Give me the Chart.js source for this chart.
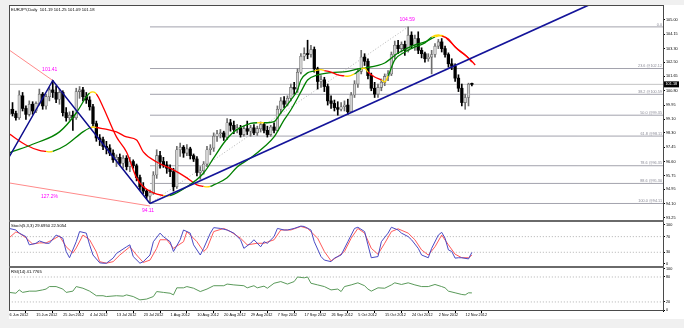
<!DOCTYPE html>
<html>
<head>
<meta charset="utf-8">
<script src="https://cdn.jsdelivr.net/npm/chart.js@4.4.1/dist/chart.umd.min.js"></script>
<style>
  html, body { margin: 0; padding: 0; background: #f0f0f0; }
  canvas { display: block; }
</style>
</head>
<body>
<canvas id="chart" width="684" height="328"></canvas>
<script>
// EURJPY daily bars, bar 0 = 5 Jun 2012 ... bar 138 = 13 Nov 2012 (Sunday bars included)
const opens  = [99.40,99.70,99.45,99.20,100.50,99.75,99.40,100.00,99.60,100.05,100.60,99.90,100.45,100.85,100.70,100.30,100.70,99.50,99.20,99.35,
  99.20,100.75,100.85,100.45,100.25,99.85,98.85,98.00,97.90,97.50,97.40,97.10,96.70,96.85,96.50,96.80,96.30,96.60,96.35,95.65,
  95.10,94.85,94.55,94.75,95.80,96.95,96.60,96.40,96.20,96.00,95.10,97.30,97.45,97.10,97.35,96.95,96.75,95.95,96.05,96.45,
  97.30,97.40,98.10,98.25,98.30,98.05,98.90,98.75,98.50,98.60,98.20,98.55,98.40,98.60,98.30,98.55,98.80,98.45,98.20,98.65,
  98.45,99.70,100.20,100.00,100.35,101.00,100.90,101.90,102.85,103.00,102.95,103.25,102.10,101.35,101.45,101.05,100.20,100.05,99.80,99.70,
  99.85,99.95,99.55,100.55,101.20,101.95,102.80,102.55,101.70,100.95,100.60,101.00,101.30,101.65,101.80,102.95,103.50,103.30,103.55,103.20,
  104.10,103.50,103.90,103.20,103.00,102.70,102.80,102.95,103.45,103.70,103.30,102.95,102.40,102.25,101.55,100.95,100.10,100.40,101.19];
const highs  = [99.90,100.10,99.60,100.80,100.70,99.90,100.20,100.15,100.15,100.90,100.70,100.60,101.00,101.41,101.10,100.90,100.80,99.80,99.55,99.60,
  100.95,101.05,101.00,100.70,100.45,100.00,99.00,98.20,98.05,97.80,97.60,97.30,97.00,97.05,96.95,96.95,96.85,96.70,96.45,95.80,
  95.35,94.95,94.90,96.00,97.30,97.20,96.85,96.60,96.40,96.20,97.50,97.70,97.55,97.60,97.45,97.05,96.90,96.30,96.60,97.50,
  97.60,98.30,98.45,98.50,98.40,99.15,99.10,99.00,98.80,98.75,98.70,99.00,98.75,98.80,98.70,98.95,98.90,98.70,98.75,98.90,
  99.90,100.40,100.45,100.50,101.20,101.30,102.10,103.00,103.35,103.80,103.50,103.40,102.20,101.70,101.60,101.20,100.50,100.25,100.15,100.10,
  100.20,100.30,100.70,101.40,102.10,103.20,103.00,102.70,101.85,101.30,101.20,101.50,101.80,102.00,103.10,103.75,103.80,103.70,103.75,104.59,
  104.30,104.10,104.30,103.35,103.10,103.00,103.20,103.60,103.85,103.90,103.45,103.05,102.70,102.40,101.75,101.20,100.60,101.25,101.25];
const lows   = [99.15,99.30,99.05,99.10,99.60,99.10,99.30,99.40,99.50,99.95,99.70,99.70,100.20,100.40,100.10,100.00,99.30,99.00,99.05,98.45,
  99.10,100.35,100.20,100.05,99.65,98.70,97.80,97.55,97.30,97.05,96.95,96.55,96.30,96.35,96.20,96.10,96.00,96.20,95.45,94.90,
  94.70,94.40,94.11,94.65,95.60,96.20,96.25,95.90,95.70,94.85,95.00,96.90,96.85,96.95,96.75,96.60,95.75,95.55,95.85,96.30,
  97.00,97.20,97.80,98.00,97.85,97.90,98.40,98.25,98.30,98.05,98.10,98.20,98.10,98.20,98.15,98.35,98.30,98.05,98.10,98.30,
  98.40,99.50,99.80,99.90,100.20,100.60,100.70,101.80,102.60,102.70,102.80,101.90,100.90,101.00,100.75,99.95,99.75,99.60,99.35,99.60,
  99.60,99.40,99.50,100.40,101.00,101.80,102.30,101.50,100.80,100.40,100.40,100.80,101.10,101.40,101.70,102.70,103.00,103.10,102.90,103.10,
  103.30,103.20,103.00,102.75,102.50,102.55,101.80,102.80,103.30,103.10,102.80,102.20,102.05,101.35,100.75,99.90,99.70,99.90,101.09];
const closes = [99.70,99.45,99.20,100.55,99.75,99.40,100.00,99.60,100.05,100.60,99.90,100.45,100.85,100.70,100.30,100.70,99.50,99.20,99.35,99.20,
  100.75,100.85,100.45,100.25,99.85,98.85,98.00,97.90,97.50,97.40,97.10,96.70,96.85,96.50,96.80,96.30,96.60,96.35,95.65,95.10,
  94.85,94.55,94.75,95.80,96.95,96.60,96.40,96.20,96.00,95.10,97.30,97.45,97.10,97.35,96.95,96.75,95.95,96.05,96.45,97.30,
  97.40,98.10,98.25,98.30,98.05,98.90,98.75,98.50,98.60,98.20,98.55,98.40,98.60,98.30,98.55,98.80,98.45,98.20,98.65,98.45,
  99.70,100.20,100.00,100.35,101.00,100.90,101.90,102.85,103.00,102.95,103.25,102.10,101.35,101.45,101.05,100.20,100.05,99.80,99.70,99.85,
  99.95,99.55,100.55,101.20,101.95,102.80,102.55,101.70,100.95,100.60,101.00,101.30,101.65,101.80,102.95,103.50,103.30,103.55,103.20,104.10,
  103.50,103.90,103.20,103.00,102.70,102.80,102.95,103.45,103.70,103.30,102.95,102.40,102.25,101.55,100.95,100.10,100.40,101.19,101.18];

// colour-changing moving averages (bar, price)
const fastMaBars = [0,8,15,20,23,24,25,26,28,32,35,38,40,43,46,47,48,53,58,61,64,67,72,74,76,79,81,84,86,87,
  89,91,93,94,96,98,100,101,103,105,106,107,109,111,112,113,115,118,121,124,126,128,129,131,133,136,138];
const fastMa = [97.11,97.70,98.36,99.48,100.43,100.67,100.73,100.61,99.84,98.06,97.17,95.63,95.10,94.74,94.58,94.55,94.57,95.10,95.92,96.81,
  97.70,98.36,98.86,98.90,98.90,98.97,99.48,100.25,100.85,101.44,101.86,101.97,102.06,102.00,101.91,101.74,101.68,101.66,101.80,102.09,
  102.15,101.91,101.62,101.44,101.32,101.68,102.63,103.10,103.40,103.64,103.99,104.11,104.05,103.87,103.40,102.92,102.51];
const slowMaBars = [0,5,9,11,12,13,17,22,24,25,26,32,35,38,40,44,49,53,56,58,59,60,61,65,68,72,76,79,82,84,
  87,89,92,96,101,104,106,112,116,121,124,127,129,130,131,134,137,139];
const slowMa = [98.24,97.58,97.26,97.20,97.17,97.20,97.58,98.36,98.59,98.65,98.62,98.36,98.06,97.88,97.17,96.57,96.10,95.63,95.21,95.12,
  95.09,95.12,95.21,95.63,96.28,96.81,97.46,98.06,99.07,99.66,100.73,101.44,101.74,101.88,101.95,102.10,102.15,102.45,103.04,103.52,
  103.70,103.99,104.08,103.99,103.81,103.22,102.75,102.33];

// Stochastic (5,3,3)
const stochKBars = [0,2,3,5,6,8,9,11,12,14,16,17,18,20,21,23,24,25,27,28,29,31,32,35,36,37,39,40,42,43,45,46,48,49,51,52,54,55,57,58,
  60,61,63,65,67,69,70,72,73,75,76,77,79,80,82,83,85,87,88,90,91,93,94,96,97,99,101,103,104,106,107,108,110,111,113,114,116,117,119,120,
  122,123,125,126,128,129,130,131,132,133,134,135,137,138];
const stochK = [91,87,79,70,49,53,59,53,53,74,66,32,16,57,83,79,49,23,3,2,2,15,27,44,49,19,2,6,23,57,79,70,57,32,62,87,79,49,23,40,
  79,93,91,87,79,62,40,53,62,44,57,53,70,91,87,87,91,97,96,87,57,19,10,6,15,23,57,91,94,83,49,16,19,57,79,94,87,79,70,62,
  40,23,16,40,74,81,66,36,32,15,16,16,13,29.695];
const stochDBars = [0,2,3,5,7,9,11,13,15,17,19,20,22,24,26,27,29,31,33,36,38,40,42,44,45,47,49,52,53,56,58,59,61,64,66,69,71,74,76,79,
  81,84,87,89,92,94,96,98,100,102,104,106,108,110,112,114,116,119,121,123,125,127,129,131,133,135,137,138];
const stochD = [67,82,79,67,51,54,54,62,72,44,28,41,74,62,31,6,2,6,23,44,23,4,10,40,62,62,40,57,83,57,32,40,83,91,83,66,49,53,53,62,
  87,87,96,91,66,32,8,19,32,66,91,79,40,25,53,83,90,79,62,36,23,44,74,49,25,16,16,22.5054];
const stochLevels = [30, 70];

// RSI (14)
const rsiBars = [0,2,3,4,6,8,10,11,12,14,16,17,19,20,22,24,26,28,29,32,34,35,37,39,41,43,44,46,48,49,50,52,53,55,57,59,61,64,65,67,
  70,71,73,74,76,77,79,81,83,85,86,88,89,90,92,94,96,98,99,100,102,104,106,107,108,110,112,114,115,117,119,121,123,125,127,129,130,131,133,135,
  136,137,138];
const rsi = [43,41,49,43,46,46,49,51,57,57,51,43,46,57,53,46,35,35,33,35,34,37,33,25,27,33,45,43,41,37,54,54,57,53,45,51,59,59,63,61,
  59,54,59,54,58,53,65,69,63,69,80,78,80,65,61,57,49,51,45,57,61,66,59,51,46,54,53,61,66,62,66,61,57,57,62,57,54,46,42,38,
  37,42,41.7765];
const rsiLevels = [20, 80];

// drawing objects (bar, price)
const zigzagBars = [0, 13, 42];
const zigzagPrices = [96.87, 101.41, 94.11];
const trendBars = [42, 195];
const trendPrices = [94.11, 107.88];
const fanUpperBars = [0, 13];
const fanUpperPrices = [103.22, 101.41];
const fanLowerBars = [0, 42];
const fanLowerPrices = [95.33, 93.96];
const fibBars = [42, 119];
const fibRatios = ['0.0', '23.6', '38.2', '50.0', '61.8', '78.6', '88.6', '100.0'];
const fibPrices = [104.59, 102.12, 100.59, 99.35, 98.11, 96.35, 95.30, 94.11];

// axes
const dateLabels = ['6 Jun 2012','15 Jun 2012','25 Jun 2012','4 Jul 2012','13 Jul 2012','23 Jul 2012','1 Aug 2012','10 Aug 2012','20 Aug 2012',
  '29 Aug 2012','7 Sep 2012','17 Sep 2012','26 Sep 2012','5 Oct 2012','15 Oct 2012','24 Oct 2012','2 Nov 2012','12 Nov 2012'];
const dateBars = [1,9,17,25,33,41,49,57,65,73,81,89,97,105,113,121,129,137];
const priceTicks = ['93.25','94.10','94.95','95.75','96.60','97.45','98.30','99.10','99.95','100.80','101.65','102.50','103.30','104.15','105.00'];
const stochTicks = ['0', '30', '70', '100'];
const rsiTicks = ['0', '20', '80', '100'];

const FONT = '"Liberation Sans", Arial, sans-serif';
const GREEN = '#008000', RED = '#ff0000', YELLOW = '#ffd800';
const last = closes.length - 1;

const pts = (xs, ys) => xs.map((x, i) => ({ x: x, y: ys[i] }));

// turning point of a series: slope changes sign there
function isTurn(s, i) {
  if (i <= 0 || i >= s.length - 1) return false;
  return (s[i] - s[i - 1]) * (s[i + 1] - s[i]) < 0;
}
function maColour(series) {
  return c => {
    const a = c.p0DataIndex, b = c.p1DataIndex;
    if (isTurn(series, a) || isTurn(series, b)) return YELLOW;
    const d = series[b] - series[a];
    if (Math.abs(d) < 0.015) return YELLOW;
    return d > 0 ? GREEN : RED;
  };
}

function line(data, yAxisID, colour, width, extra) {
  return Object.assign({
    type: 'line', data: data, yAxisID: yAxisID, xAxisID: 'x',
    borderColor: colour, borderWidth: width, pointRadius: 0, fill: false, tension: 0
  }, extra || {});
}

const datasets = [];

// fibonacci levels and current price line
fibPrices.forEach(p => {
  datasets.push(line([{ x: fibBars[0], y: p }, { x: 196, y: p }], 'yMain', '#a3a3ad', 1, { order: 20 }));
});
datasets.push(line([{ x: -1, y: closes[last] }, { x: 196, y: closes[last] }], 'yMain', '#c4c4c4', 1, { order: 21 }));
datasets.push(line(pts(fibBars, [fibPrices[fibPrices.length - 1], fibPrices[0]]), 'yMain', '#b4b4b4', 1,
  { order: 19, borderDash: [1, 2] }));

// candles: wick bars then body bars
const isBull = i => closes[i] >= opens[i];
datasets.push({
  type: 'bar', xAxisID: 'x', yAxisID: 'yMain', order: 10, grouped: false,
  data: closes.map((_, i) => ({ x: i, y: [lows[i], highs[i]] })),
  barThickness: 1,
  backgroundColor: c => isBull(c.dataIndex) ? '#6e6e6e' : '#000000'
});
datasets.push({
  type: 'bar', xAxisID: 'x', yAxisID: 'yMain', order: 9, grouped: false,
  data: closes.map((_, i) => ({ x: i, y: [opens[i], closes[i]] })),
  barThickness: 2.6, minBarLength: 1, borderSkipped: false,
  borderWidth: c => isBull(c.dataIndex) ? 0.6 : 0,
  borderColor: '#5a5a5a',
  backgroundColor: c => isBull(c.dataIndex) ? '#d2d2d2' : '#000000'
});

// fan lines
datasets.push(line(pts(fanUpperBars, fanUpperPrices), 'yMain', '#ff8a8a', 1, { order: 6 }));
datasets.push(line(pts(fanLowerBars, fanLowerPrices), 'yMain', '#ff8a8a', 1, { order: 6 }));

// moving averages
datasets.push(line(pts(slowMaBars, slowMa), 'yMain', GREEN, 1.3,
  { order: 4, cubicInterpolationMode: 'monotone', segment: { borderColor: maColour(slowMa) } }));
datasets.push(line(pts(fastMaBars, fastMa), 'yMain', GREEN, 1.3,
  { order: 3, cubicInterpolationMode: 'monotone', segment: { borderColor: maColour(fastMa) } }));

// zigzag and trend line
datasets.push(line(pts(zigzagBars, zigzagPrices), 'yMain', '#0c0c8c', 1.5, { order: 2 }));
datasets.push(line(pts(trendBars, trendPrices), 'yMain', '#14149a', 1.7, { order: 2 }));

// stochastic pane
stochLevels.forEach(v => {
  datasets.push(line([{ x: -1, y: v }, { x: 196, y: v }], 'yStoch', '#b0b0b0', 1, { order: 20, borderDash: [1, 2] }));
});
datasets.push(line(pts(stochDBars, stochD), 'yStoch', '#ff5a5a', 1, { order: 3 }));
datasets.push(line(pts(stochKBars, stochK), 'yStoch', '#4a4ac4', 1, { order: 2 }));

// RSI pane
rsiLevels.forEach(v => {
  datasets.push(line([{ x: -1, y: v }, { x: 196, y: v }], 'yRsi', '#b0b0b0', 1, { order: 20, borderDash: [1, 2] }));
});
datasets.push(line(pts(rsiBars, rsi), 'yRsi', '#5a9a5a', 1, { order: 2 }));

// pane frames, captions and object labels
const panes = {
  id: 'panes',
  beforeDraw(chart) {
    const { ctx, chartArea: a } = chart;
    ctx.save();
    ctx.fillStyle = '#f0f0f0';
    ctx.fillRect(0, 0, chart.width, chart.height);
    ctx.fillStyle = '#ffffff';
    ctx.fillRect(a.left, a.top, chart.width - a.left, chart.height - a.top - 9);
    ctx.restore();
  },
  afterDatasetsDraw(chart) {
    const { ctx, scales: { x, yMain } } = chart;
    ctx.save();
    // fibonacci captions
    ctx.font = '3.8px ' + FONT;
    ctx.fillStyle = '#8a8a96';
    ctx.textAlign = 'right';
    ctx.textBaseline = 'bottom';
    fibPrices.forEach((p, i) => {
      const txt = i === 0 ? fibRatios[i] : fibRatios[i] + ' @' + p.toFixed(2);
      ctx.fillText(txt, x.right - 1, yMain.getPixelForValue(p) - 0.5);
    });
    // swing labels
    ctx.font = '5px ' + FONT;
    ctx.fillStyle = '#ff00ff';
    ctx.textAlign = 'center';
    ctx.textBaseline = 'middle';
    const hi1 = zigzagPrices[1], lo = zigzagPrices[2], hi2 = fibPrices[0];
    ctx.fillText(hi1.toFixed(2), x.getPixelForValue(zigzagBars[1]) - 3, yMain.getPixelForValue(hi1) - 11);
    ctx.fillText(lo.toFixed(2), x.getPixelForValue(zigzagBars[2]) - 2, yMain.getPixelForValue(lo) + 7);
    ctx.fillText(hi2.toFixed(2), x.getPixelForValue(fibBars[1]) - 1, yMain.getPixelForValue(hi2) - 7);
    const fx = 12;
    const fp = fanLowerPrices[0] + (fanLowerPrices[1] - fanLowerPrices[0]) * fx / (fanLowerBars[1] - fanLowerBars[0]);
    ctx.fillText('127.2%', x.getPixelForValue(fx), yMain.getPixelForValue(fp) + 7.5);
    ctx.restore();
  },
  afterDraw(chart) {
    const { ctx, scales: { x, yMain, yStoch, yRsi } } = chart;
    ctx.save();
    ctx.strokeStyle = '#4a4a4a';
    ctx.lineWidth = 1;
    [yMain, yStoch, yRsi].forEach(s => {
      ctx.strokeRect(x.left + 0.5, s.top + 0.5, x.right - x.left, s.bottom - s.top - 1);
    });
    ctx.fillStyle = '#6a6a6a';
    ctx.fillRect(x.left, yMain.bottom - 1, x.right - x.left + 1, 2);
    ctx.fillRect(x.left, yStoch.bottom - 1, x.right - x.left + 1, 2);

    // captions
    ctx.fillStyle = '#000000';
    ctx.font = '4.2px ' + FONT;
    ctx.textAlign = 'left';
    ctx.textBaseline = 'middle';
    ctx.fillText('EURJPY,Daily  ' + [opens[last], highs[last], lows[last], closes[last]].map(v => v.toFixed(2)).join(' '),
      x.left + 2, yMain.top + 5);
    ctx.fillText('Stoch(5,3,3) ' + stochK[stochK.length - 1].toFixed(4) + ' ' + stochD[stochD.length - 1].toFixed(4),
      x.left + 2, yStoch.top + 5);
    ctx.fillText('RSI(14) ' + rsi[rsi.length - 1].toFixed(4), x.left + 2, yRsi.top + 5);

    // current price tag
    const py = yMain.getPixelForValue(closes[last]);
    ctx.fillStyle = '#000000';
    ctx.fillRect(x.right + 1, py - 3, 15, 6);
    ctx.fillStyle = '#ffffff';
    ctx.font = '3.8px ' + FONT;
    ctx.fillText(closes[last].toFixed(2), x.right + 2.5, py);
    ctx.restore();
  }
};

const tickFont = { family: FONT, size: 3.8 };
function paneAxis(labels, min, max, weight) {
  return {
    type: 'linear', position: 'right', stack: 'panes', stackWeight: weight,
    min: min, max: max,
    afterFit: s => { s.width = 21; },
    afterBuildTicks: s => { s.ticks = labels.map(t => ({ value: parseFloat(t) })); },
    ticks: { autoSkip: false, font: tickFont, color: '#000', padding: 1, callback: (v, i) => labels[i] },
    grid: { display: true, drawOnChartArea: false, drawTicks: true, tickLength: 2, tickColor: '#000' },
    border: { display: true, color: '#000' }
  };
}

new Chart(document.getElementById('chart'), {
  type: 'line',
  data: { datasets: datasets },
  options: {
    responsive: false,
    animation: false,
    events: [],
    layout: { padding: { left: 9, top: 5, right: 0, bottom: 0 } },
    plugins: { legend: { display: false }, tooltip: { enabled: false } },
    scales: {
      x: {
        type: 'linear', min: -0.05, max: 195, offset: false,
        afterFit: s => { s.height = 17; },
        afterBuildTicks: s => { s.ticks = dateBars.map(v => ({ value: v })); },
        ticks: { autoSkip: false, maxRotation: 0, align: 'start', labelOffset: -3, padding: 0,
          font: tickFont, color: '#000', callback: (v, i) => dateLabels[i] },
        grid: { display: true, drawOnChartArea: false, drawTicks: true, tickLength: 2, tickColor: '#000' },
        border: { display: false }
      },
      yMain: paneAxis(priceTicks, 93.07, 105.89, 216),
      yStoch: paneAxis(stochTicks, -7.7, 110, 46),
      yRsi: paneAxis(rsiTicks, -1.7, 104, 44)
    }
  },
  plugins: [panes]
});
</script>
</body>
</html>
